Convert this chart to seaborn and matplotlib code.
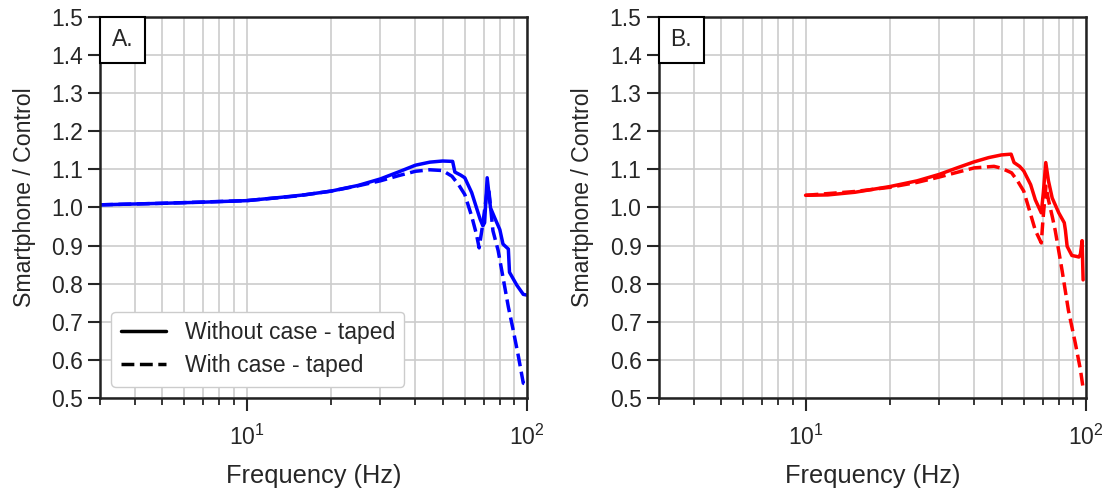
import pandas as pd
import seaborn as sns
import matplotlib.pyplot as plt
from matplotlib.lines import Line2D
from matplotlib.offsetbox import AnchoredText
from matplotlib.ticker import MultipleLocator

# Panel A - blue
freq_a = [3, 5, 7, 10, 13, 16, 20, 25, 30, 35, 40, 45, 50, 54.3, 55.3, 58, 60, 63.5, 66, 68,
          69.6, 70.6, 72.1, 74.1, 77, 80, 82.1, 85.8, 86.6, 92, 97, 100]
ratio_a = [1.007, 1.011, 1.014, 1.018, 1.026, 1.033, 1.043, 1.058, 1.075, 1.094, 1.111, 1.119,
           1.122, 1.121, 1.093, 1.085, 1.078, 1.039, 1.0, 0.97, 0.952, 0.96, 1.078, 0.999, 0.97,
           0.942, 0.904, 0.891, 0.83, 0.796, 0.772, 0.77]
freq_a_case = [3, 5, 10, 15, 20, 25, 30, 35, 40, 45, 50, 54, 57, 60, 63.5, 66, 67.5, 69.4, 71.8,
               73, 75.6, 78.9, 82.1, 85.8, 89.3, 93.2, 97, 100]
ratio_a_case = [1.007, 1.011, 1.018, 1.03, 1.043, 1.057, 1.07, 1.084, 1.095, 1.099, 1.097, 1.082,
                1.06, 1.034, 0.977, 0.93, 0.894, 0.952, 1.035, 1.05, 0.939, 0.887, 0.817, 0.739,
                0.678, 0.609, 0.539, 0.535]

# Panel B - red
freq_b = [10, 12, 15, 20, 25, 30, 35, 40, 45, 50, 54.1, 55.4, 58, 60, 63.5, 66, 69.3, 70.5, 71.9,
          73.5, 75.8, 80, 83.7, 84.5, 85.7, 89.1, 92, 94.4, 95.6, 96.9, 97.7]
ratio_b = [1.032, 1.033, 1.04, 1.055, 1.07, 1.087, 1.105, 1.12, 1.131, 1.138, 1.14, 1.118, 1.108,
           1.096, 1.06, 1.02, 0.986, 1.04, 1.118, 1.07, 1.025, 0.986, 0.96, 0.94, 0.898, 0.874,
           0.872, 0.87, 0.878, 0.913, 0.81]
freq_b_case = [10, 15, 20, 25, 30, 35, 40, 47, 50, 54.3, 57, 60, 63.5, 66, 69.3, 70.3, 72, 73.5,
               75.8, 77.7, 82.2, 86.6, 91.7, 95.6, 97.7]
ratio_b_case = [1.032, 1.042, 1.053, 1.066, 1.08, 1.093, 1.104, 1.108, 1.103, 1.091, 1.07, 1.043,
                0.982, 0.94, 0.907, 0.97, 1.056, 1.02, 0.977, 0.94, 0.835, 0.73, 0.643, 0.574,
                0.526]

panel_labels = ['A.', 'B.']
legend_labels = ['Without case - taped', 'With case - taped']

sns.set_theme(style='ticks')
plt.rcParams['font.family'] = ['Liberation Sans', 'DejaVu Sans']
plt.rcParams['mathtext.fontset'] = 'custom'
plt.rcParams['mathtext.rm'] = 'Liberation Sans'
plt.rcParams['mathtext.it'] = 'Liberation Sans:italic'
plt.rcParams['font.size'] = 16.5

fig = plt.figure(figsize=(11.09, 4.91), dpi=100)
ax_a = fig.add_axes([0.0902, 0.1894, 0.385, 0.776])
ax_b = fig.add_axes([0.5942, 0.1894, 0.385, 0.776])

panels = [
    (ax_a, freq_a, ratio_a, freq_a_case, ratio_a_case, 'blue'),
    (ax_b, freq_b, ratio_b, freq_b_case, ratio_b_case, 'red'),
]

for (ax, f1, r1, f2, r2, col), lab in zip(panels, panel_labels):
    sns.lineplot(x=f1, y=r1, ax=ax, color=col, lw=2.5, sort=False, estimator=None)
    sns.lineplot(x=f2, y=r2, ax=ax, color=col, lw=2.5, ls='--', sort=False, estimator=None)
    ax.set_xscale('log')
    ax.set_xlim(3, 100)
    ax.set_ylim(0.5, 1.5)
    ax.yaxis.set_major_locator(MultipleLocator(0.1))
    ax.grid(which='both', axis='x', color='#cccccc', lw=1.2)
    ax.grid(which='major', axis='y', color='#cccccc', lw=1.2)
    ax.set_axisbelow(True)
    ax.tick_params(which='major', length=9, width=1.5, labelsize=16.5)
    ax.tick_params(axis='x', which='major', pad=10.5)
    ax.tick_params(which='minor', length=5, width=1.3)
    for sp in ax.spines.values():
        sp.set_color('#222222')
        sp.set_linewidth(1.8)
    ax.set_xlabel('Frequency (Hz)', fontsize=18.3, labelpad=10)
    ax.set_ylabel('Smartphone / Control', fontsize=16.7, labelpad=11)
    ax.yaxis.label.set_y(0.526)

    at = AnchoredText(lab, loc='upper left', borderpad=0, pad=0.5,
                      prop=dict(size=16.5))
    at.patch.set_boxstyle('square,pad=0')
    at.patch.set_edgecolor('black')
    at.patch.set_linewidth(1.5)
    ax.add_artist(at)

handles = [Line2D([], [], color='black', lw=2.5),
           Line2D([], [], color='black', lw=2.5, ls='--')]
ax_a.legend(handles, legend_labels, loc='lower left', fontsize=16.5, frameon=True,
            edgecolor='#cccccc', framealpha=1, labelspacing=0.45)

plt.savefig('out.png', dpi=100)
plt.close()
